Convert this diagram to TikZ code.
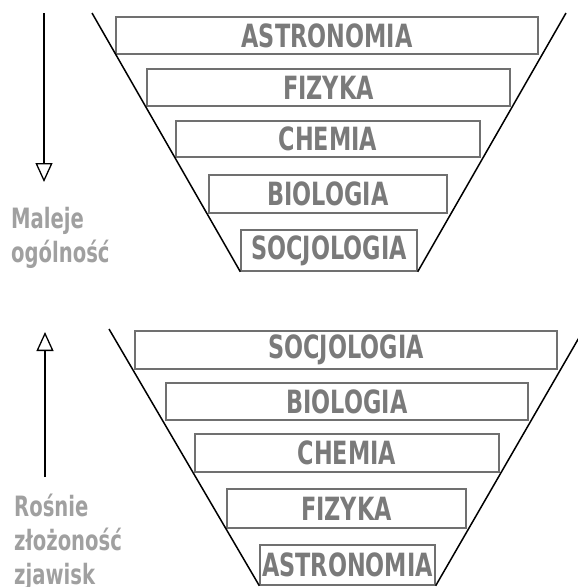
\documentclass[tikz,border=0pt]{standalone}
\usepackage{fontspec}
\newfontfamily\diagfont{DejaVu Sans}[FakeStretch=0.70]
\usetikzlibrary{arrows.meta,positioning}
\definecolor{boxgray}{HTML}{7A7A7A}
\definecolor{framegray}{HTML}{707070}
\definecolor{notegray}{HTML}{A0A0A0}

\begin{document}
\begin{tikzpicture}[x=1pt, y=-1pt,
  box/.style={draw=framegray, line width=1.4pt, inner sep=0pt, text=boxgray,
              font=\diagfont\bfseries\fontsize{32}{36}\selectfont},
  funnel/.style={line width=1.5pt, black},
  arr/.style={-{Triangle[open, length=19pt, width=17pt]}, line width=1.3pt},
  note/.style={anchor=base west, align=left, inner sep=0pt, text=notegray,
               font=\diagfont\bfseries\fontsize{28}{34}\selectfont}
]
\useasboundingbox (0,0) rectangle (578,587);

% gorny lejek
\node[box, minimum width=422pt, minimum height=37pt] (astroT) at (327,35.5) {ASTRONOMIA};
\node[box, minimum width=363pt, minimum height=37pt] (fizT) at (328.5,87.5) {FIZYKA};
\node[box, minimum width=304pt, minimum height=36pt] (chemT) at (328,139) {CHEMIA};
\node[box, minimum width=238pt, minimum height=38pt] (bioT) at (328,194) {BIOLOGIA};
\node[box, minimum width=176pt, minimum height=41pt] (socT) at (329,250.5) {SOCJOLOGIA};

\coordinate (funTL) at (92,13);
\coordinate (funTR) at (566,13);
\draw[funnel] (funTL) -- (socT.south west);
\draw[funnel] (funTR) -- (socT.south east);

\coordinate (arrTstart) at (44,13);
\coordinate (arrTend) at (44,182);
\draw[arr] (arrTstart) -- (arrTend);
\node[note] (noteT) at (11,262) {Maleje\\ogólność};

% dolny lejek
\node[box, minimum width=422pt, minimum height=38pt] (socB) at (346,350) {SOCJOLOGIA};
\node[box, minimum width=362pt, minimum height=37pt] (bioB) at (347,401.5) {BIOLOGIA};
\node[box, minimum width=304pt, minimum height=38pt] (chemB) at (347,453) {CHEMIA};
\node[box, minimum width=239pt, minimum height=39pt] (fizB) at (346.5,508.5) {FIZYKA};
\node[box, minimum width=175pt, minimum height=40pt] (astroB) at (347.5,565) {ASTRONOMIA};

\coordinate (funBL) at (109,329);
\coordinate (funBR) at (584,329);
\draw[funnel] (funBL) -- (astroB.south west);
\draw[funnel] (funBR) -- (astroB.south east);

\coordinate (arrBstart) at (45,477);
\coordinate (arrBend) at (45,332);
\draw[arr] (arrBstart) -- (arrBend);
\node[note] (noteB) at (14,584) {Rośnie\\złożoność\\zjawisk};
\end{tikzpicture}
\end{document}
